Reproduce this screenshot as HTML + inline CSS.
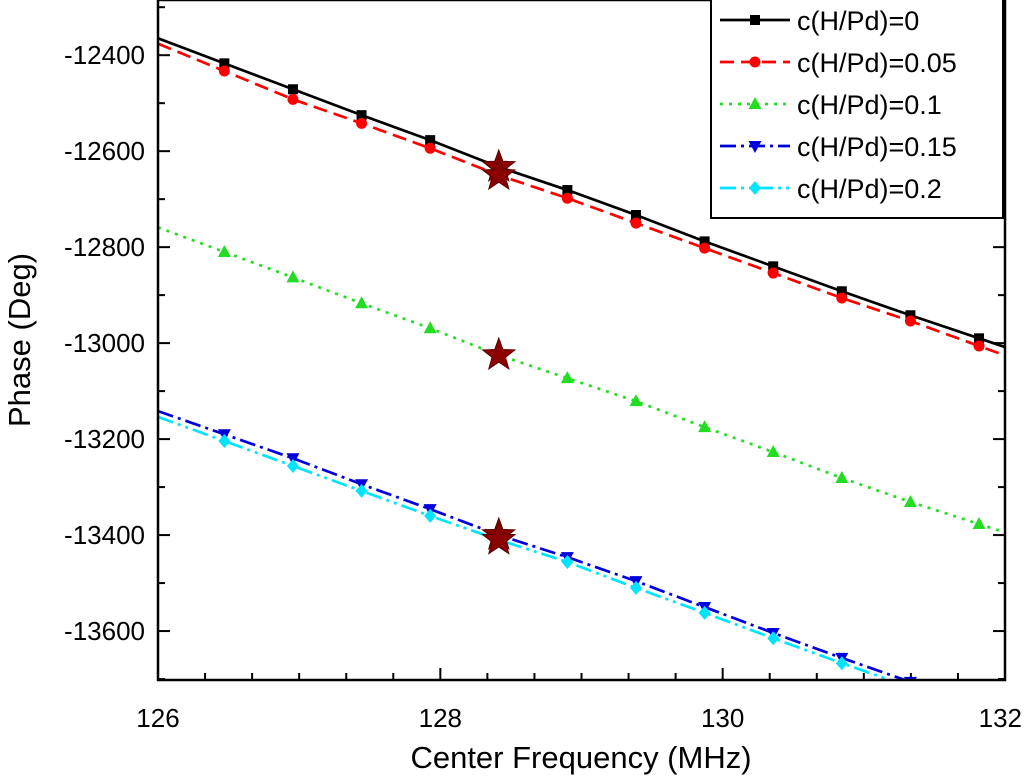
<!DOCTYPE html>
<html><head><meta charset="utf-8"><style>
html,body{margin:0;padding:0;background:#fff;}
svg{display:block;font-family:"Liberation Sans",Arial,sans-serif;}
</style></head><body>
<svg id="chart" width="1024" height="782"></svg>
<script>
const freqs=[126.47,126.956,127.442,127.928,128.414,128.9,129.386,129.872,130.358,130.844,131.33,131.816];
const s0=[-12417,-12471,-12525,-12577,-12633,-12681,-12733,-12788,-12840,-12892,-12942,-12990];
const s05=[-12433,-12492,-12542,-12594,-12650,-12698,-12750,-12802,-12854,-12906,-12954,-13006];
const s10=[-12810,-12863,-12917,-12969,-13025,-13073,-13121,-13175,-13227,-13281,-13331,-13377];
const s15=[-13190,-13240,-13294,-13346,-13400,-13446,-13496,-13550,-13604,-13656,-13706,-13756];
const s20=[-13204,-13256,-13308,-13360,-13410,-13456,-13510,-13562,-13615,-13667,-13717,-13769];
const seriesLabels=["c(H/Pd)=0","c(H/Pd)=0.05","c(H/Pd)=0.1","c(H/Pd)=0.15","c(H/Pd)=0.2"];
const xTicks=[126,128,130,132];
const yTicks=[-12400,-12600,-12800,-13000,-13200,-13400,-13600];
const starIndex=4;

const NS="http://www.w3.org/2000/svg";
const svg=document.getElementById('chart');
const L=158,R=1005,T=0,B=680;
const xMin=126,xMax=132,yTop=-12285,yBot=-13702;
const X=v=>L+(v-xMin)/(xMax-xMin)*(R-L);
const Y=v=>T+(yTop-v)/(yTop-yBot)*(B-T);
function mk(tag,attrs,parent){const e=document.createElementNS(NS,tag);for(const k in attrs)e.setAttribute(k,attrs[k]);(parent||svg).appendChild(e);return e;}

const defs=mk('defs',{});
const cp=mk('clipPath',{id:'clip'},defs);
mk('rect',{x:L,y:T,width:R-L,height:B-T},cp);

const axisG=mk('g',{});


for(let v=126;v<=132.001;v+=1/3){
  const major=Math.abs(v-Math.round(v/2)*2)<1e-6;
  const len=major?12:7;
  mk('line',{x1:X(v),x2:X(v),y1:B,y2:B-len,stroke:'#000','stroke-width':2},axisG);
}
for(let v=-12300;v>=-13700;v-=100){
  const major=v%200===0;const len=major?12:7;
  mk('line',{x1:L,x2:L+len,y1:Y(v),y2:Y(v),stroke:'#000','stroke-width':2},axisG);
  mk('line',{x1:R,x2:R-len,y1:Y(v),y2:Y(v),stroke:'#000','stroke-width':2},axisG);
}
xTicks.forEach((v,i)=>{const last=i===xTicks.length-1;
 const t=mk('text',{x:last?1022:X(v),y:B+47,'font-size':26,'text-anchor':last?'end':'middle'},axisG);t.textContent=v;
 });
yTicks.forEach(v=>{const t=mk('text',{x:L-13,y:Y(v)+9,'font-size':26,'text-anchor':'end'},axisG);t.textContent=v;
 });
const xt=mk('text',{x:581,y:768,'font-size':31,'text-anchor':'middle'});xt.textContent='Center Frequency (MHz)';

const yt=mk('text',{x:0,y:0,'font-size':31,'text-anchor':'middle',transform:'translate(30,340) rotate(-90)'});yt.textContent='Phase (Deg)';


const styles=[
 {c:'#000',dash:'',m:'square'},
 {c:'#ff0000',dash:'14,7',m:'circle'},
 {c:'#22dd22',dash:'3,6',m:'tri'},
 {c:'#0000dd',dash:'16,5,3,5',m:'tridown'},
 {c:'#00e5ff',dash:'16,5,3,5,3,5',m:'diamond'}
];
const allSeries=[s0,s05,s10,s15,s20];
function marker(type,x,y,c,g){
  if(type==='square')return mk('rect',{x:x-5,y:y-5,width:10,height:10,fill:c},g);
  if(type==='circle')return mk('circle',{cx:x,cy:y,r:5.5,fill:c},g);
  if(type==='tri')return mk('polygon',{points:`${x},${y-7} ${x-6.5},${y+5} ${x+6.5},${y+5}`,fill:c},g);
  if(type==='tridown')return mk('polygon',{points:`${x},${y+7} ${x-6.5},${y-5} ${x+6.5},${y-5}`,fill:c},g);
  return mk('polygon',{points:`${x},${y-7} ${x-6},${y} ${x},${y+7} ${x+6},${y}`,fill:c},g);
}
function star(x,y,g){let p=[];for(let i=0;i<10;i++){const r=i%2?7:17;const a=-Math.PI/2+i*Math.PI/5;p.push((x+r*Math.cos(a)).toFixed(1)+','+(y+r*Math.sin(a)).toFixed(1));}
 return mk('polygon',{points:p.join(' '),fill:'#8b0000',stroke:'#5a0000','stroke-width':1},g);}
const plotG=mk('g',{'clip-path':'url(#clip)'});
allSeries.forEach((s,si)=>{
  const st=styles[si];
  const g=mk('g',{},plotG);
  
  
  const n=s.length;
  const k0=(s[1]-s[0])/(freqs[1]-freqs[0]);
  const k1=(s[n-1]-s[n-2])/(freqs[n-1]-freqs[n-2]);
  const pts=[[xMin,s[0]+k0*(xMin-freqs[0])]];
  s.forEach((v,i)=>pts.push([freqs[i],v]));
  pts.push([xMax,s[n-1]+k1*(xMax-freqs[n-1])]);
  const pl=mk('polyline',{points:pts.map(p=>X(p[0])+','+Y(p[1])).join(' '),fill:'none',stroke:st.c,'stroke-width':2.7,'stroke-dasharray':st.dash},g);
  
  
  s.forEach((v,i)=>{if(i===starIndex)return;const m=marker(st.m,X(freqs[i]),Y(v),st.c,g);
    
    });
});
allSeries.forEach((s,si)=>{const st=star(X(freqs[starIndex]),Y(s[starIndex]),plotG);
  
  });

mk('rect',{x:L,y:T,width:R-L,height:B-T,fill:'none',stroke:'#000','stroke-width':2.5});

const lg=mk('g',{});


mk('rect',{x:711,y:-1,width:292,height:219,fill:'#fff',stroke:'#000','stroke-width':2},lg);
seriesLabels.forEach((lab,i)=>{
  const st=styles[i];const y=20+i*42;
  const e=mk('g',{},lg);
  
  
  mk('line',{x1:720,x2:790,y1:y,y2:y,stroke:st.c,'stroke-width':2.7,'stroke-dasharray':st.dash},e);
  marker(st.m,755,y,st.c,e);
  const t=mk('text',{x:797,y:y+10,'font-size':27},e);t.textContent=lab;
});
</script>
</body></html>
